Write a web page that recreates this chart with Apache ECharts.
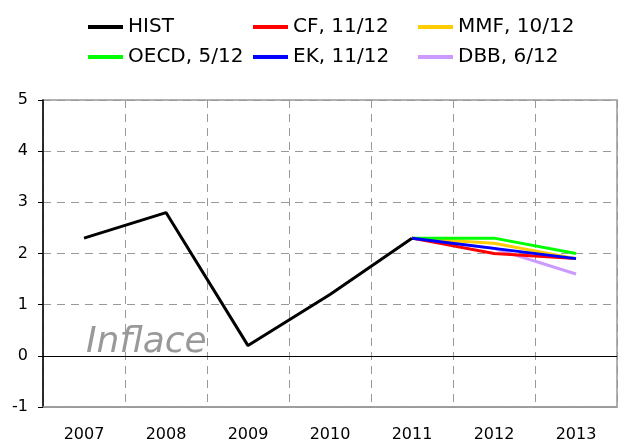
<!DOCTYPE html>
<html>
<head>
<meta charset="utf-8">
<script src="https://cdn.jsdelivr.net/npm/echarts@6/dist/echarts.min.js"></script>
<style>
  html, body { margin: 0; padding: 0; background: #fff; }
  #chart { width: 638px; height: 443px; }
</style>
</head>
<body>
<div id="chart"></div>
<script>
  let years = ['2007', '2008', '2009', '2010', '2011', '2012', '2013'];
  let hist = [2.3, 2.8, 0.2, 1.2, 2.3, '-', '-'];
  let cf = ['-', '-', '-', '-', 2.3, 2.0, 1.9];
  let mmf = ['-', '-', '-', '-', 2.3, 2.2, 1.9];
  let oecd = ['-', '-', '-', '-', 2.3, 2.3, 2.0];
  let ek = ['-', '-', '-', '-', 2.3, 2.1, 1.9];
  let dbb = ['-', '-', '-', '-', 2.3, 2.1, 1.6];
  let yMin = -1, yMax = 5, yStep = 1;

  let font = '"DejaVu Sans", Verdana, sans-serif';
  let gridColor = '#999999';

  function line(name, data, color, z) {
    return {
      name: name,
      type: 'line',
      data: data,
      symbol: 'none',
      z: z,
      lineStyle: {color: color, width: 3},
      itemStyle: {color: color}
    };
  }

  // one legend per entry so the 3x2 layout stays put
  function legend(name, left, top) {
    return {
      top: top,
      left: left,
      padding: 0,
      itemWidth: 35,
      itemHeight: 4,
      icon: 'rect',
      data: [name],
      textStyle: {fontFamily: font, fontSize: 20, color: '#000', padding: [0, 0, 0, 0]}
    };
  }

  let chart = echarts.init(document.getElementById('chart'));
  chart.setOption({
    animation: false,
    legend: [
      legend('HIST', 88, 17),
      legend('CF, 11/12', 253, 17),
      legend('MMF, 10/12', 418, 17),
      legend('OECD, 5/12', 88, 47),
      legend('EK, 11/12', 253, 47),
      legend('DBB, 6/12', 418, 47)
    ],
    grid: {
      left: 43, right: 21, top: 100, bottom: 35,
      show: true, borderColor: gridColor, borderWidth: 1.5
    },
    graphic: [{
      type: 'text',
      left: 86,
      top: 325,
      silent: true,
      style: {text: 'Inflace', font: 'italic 36px ' + font, fill: '#999999'}
    }],
    xAxis: {
      type: 'category',
      data: years,
      boundaryGap: true,
      axisLine: {onZero: false, lineStyle: {color: gridColor, width: 1.5}},
      axisTick: {show: false},
      axisLabel: {fontFamily: font, fontSize: 16, color: '#000', margin: 20},
      splitLine: {show: true, lineStyle: {color: gridColor, type: [8, 6], width: 1}}
    },
    yAxis: {
      type: 'value',
      min: yMin, max: yMax, interval: yStep,
      axisLine: {show: true, lineStyle: {color: '#000', width: 1.5}},
      axisTick: {show: true, length: 5, lineStyle: {color: '#000'}},
      axisLabel: {fontFamily: font, fontSize: 16, color: '#000', margin: 15},
      splitLine: {show: true, lineStyle: {color: gridColor, type: [8, 6], width: 1}}
    },
    series: [
      Object.assign(line('HIST', hist, '#000000', 5), {
        markLine: {
          silent: true,
          symbol: ['none', 'none'],
          label: {show: false},
          lineStyle: {color: '#000', width: 1, type: 'solid'},
          data: [{yAxis: 0}]
        }
      }),
      line('DBB, 6/12', dbb, '#cc99ff', 2),
      line('CF, 11/12', cf, '#ff0000', 3),
      line('MMF, 10/12', mmf, '#ffcc00', 3),
      line('OECD, 5/12', oecd, '#00ff00', 4),
      line('EK, 11/12', ek, '#0000ff', 4)
    ]
  });
</script>
</body>
</html>
